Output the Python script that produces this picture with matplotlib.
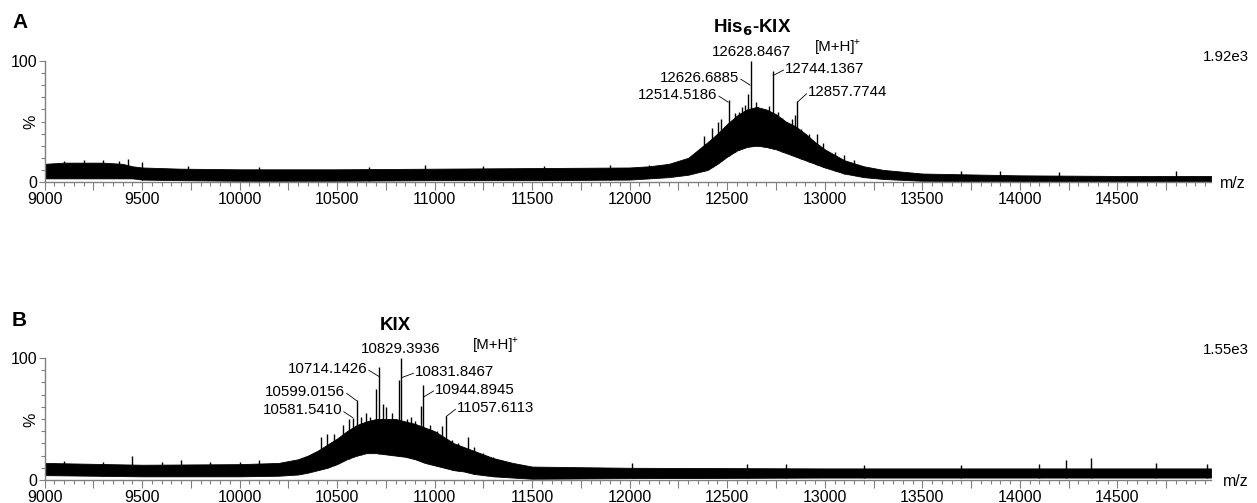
import numpy as np
import matplotlib.pyplot as plt
from matplotlib.ticker import MultipleLocator, FuncFormatter

plt.rcParams['font.family'] = ['Liberation Sans', 'DejaVu Sans']

# Панель A: огибающая шумовой полосы спектра (m/z, % нижняя и верхняя граница)
mz_a = [9000, 9100, 9200, 9300, 9400, 9450, 9500, 9700, 10000, 10500, 11000, 11500, 12000,
        12100, 12200, 12300, 12400, 12450, 12500, 12550, 12600, 12650, 12700, 12750, 12800,
        12850, 12900, 12950, 13000, 13100, 13200, 13300, 13500, 14000, 14500, 14980]
upper_a = [15, 16, 16, 16, 15, 13, 12, 11, 10.5, 10.5, 11, 11.5, 12, 13, 15, 20, 33, 40, 48,
           55, 60, 62, 60, 56, 50, 46, 40, 33, 27, 18, 13, 10, 7, 5.5, 5, 5]
lower_a = [3, 3, 3, 3, 3, 3, 2, 1.5, 1, 1, 1.5, 1.5, 2, 3, 4, 6, 10, 15, 21, 26, 29, 30, 29,
           27, 24, 21, 18, 15, 12, 7, 4, 2.5, 1, 0.5, 0.5, 0.5]

# Панель A: отдельные пики (m/z, %)
peaks_a_mz = [12623, 12606, 12733, 12508, 12859, 12590, 12560, 12700, 12962, 9428, 9500,
              12380, 12420, 12455, 12470, 12540, 12575, 12645, 12660, 12690, 12715, 12760,
              12780, 12800, 12830, 12845, 12880, 12920, 12990, 13050, 13100, 13150,
              9100, 9200, 9300, 9380, 9735, 10100, 10664, 10950, 11250, 11560, 11900,
              12100, 13700, 13900, 14200, 14800]
peaks_a_h = [100, 73, 92, 68, 67, 64, 58, 55, 40, 19, 16.5,
             38, 45, 50, 52, 57, 62, 66, 62, 58, 63, 58,
             53, 50, 52, 55, 44, 40, 32, 25, 22, 18,
             17, 18, 18, 17, 13, 12.5, 12.5, 14, 13, 13.5, 14,
             14, 9, 9.5, 8.5, 9]

# Панель B: огибающая шумовой полосы
mz_b = [9000, 9500, 10000, 10200, 10300, 10350, 10400, 10450, 10500, 10550, 10600, 10650,
        10700, 10750, 10800, 10850, 10900, 10950, 11000, 11050, 11100, 11150, 11200, 11300,
        11400, 11500, 12000, 13000, 14000, 14980]
upper_b = [14, 12.5, 13, 14, 17, 20, 24, 29, 34, 40, 45, 48, 50, 50, 50, 48, 46, 43, 40, 35,
           30, 27, 24, 18, 14, 11, 10, 9.5, 9.5, 9.5]
lower_b = [4, 3, 3, 3.5, 4.5, 6, 8, 10, 13, 17, 20, 22, 22, 21, 20, 19, 17, 14, 12, 10, 8,
           7, 5, 3, 2, 1, 1.5, 2, 2, 2]

# Панель B: отдельные пики
peaks_b_mz = [10828, 10815, 10715, 10700, 10601, 10582, 10941, 10930, 11059, 11040, 11170,
              10751, 10485, 9448, 10003, 12013, 14237, 14365, 14698, 14960,
              10420, 10450, 10530, 10560, 10620, 10650, 10670, 10735, 10780, 10860, 10880,
              10900, 10975, 11010, 11090, 11120, 11200, 11250, 11300,
              9100, 9300, 9600, 9700, 9850, 10100, 12600, 12800, 13200, 13700, 14100]
peaks_b_h = [100, 82, 93, 75, 65.6, 51, 78, 61, 52.5, 44, 35, 60, 38, 20, 15, 14, 16, 18, 14, 13,
             35, 38, 45, 50, 52, 55, 52, 62, 55, 50, 52,
             48, 45, 40, 33, 30, 27, 22, 19,
             15.5, 15, 15, 16, 15, 16, 13, 13, 12, 12, 13]

# Подписи пиков: текст, позиция текста (m/z, %), точка выноски, выравнивание
labels_a = [
    ('12628.8467', (12623, 107.5), None, 'center'),
    ('12626.6885', (12561, 86), (12618, 80), 'right'),
    ('12744.1367', (12797, 93.5), (12735, 88), 'left'),
    ('12514.5186', (12449, 72), (12505, 66), 'right'),
    ('12857.7744', (12915, 74), (12860, 66), 'left'),
]
labels_b = [
    ('10829.3936', (10828, 107.5), None, 'center'),
    ('10714.1426', (10654, 91), (10713, 85), 'right'),
    ('10599.0156', (10541, 72), (10600, 65), 'right'),
    ('10581.5410', (10526, 57), (10581, 51), 'right'),
    ('10831.8467', (10900, 88.5), (10832, 84), 'left'),
    ('10944.8945', (11003, 74), (10943, 68), 'left'),
    ('11057.6113', (11115, 59), (11059, 52), 'left'),
]

W, H = 1257, 503
fig = plt.figure(figsize=(W / 100, H / 100), dpi=100)


def px(x, y):
    return x / W, 1 - y / H


def draw_panel(rect, mz, lo, up, pk_mz, pk_h, labels):
    ax = fig.add_axes(rect)
    ax.fill_between(mz, lo, up, color='black', lw=0.6)
    # пики начинаются от нижней границы полосы
    base = np.interp(pk_mz, mz, lo)
    ax.vlines(pk_mz, base, pk_h, color='black', lw=1.0)
    for txt, xy, tip, ha in labels:
        ax.text(xy[0], xy[1], txt, ha=ha, va='center', fontsize=10.8, clip_on=False)
        if tip is not None:
            start = (xy[0] + (8 if ha == 'right' else -8), xy[1] - 1)
            ax.annotate('', xy=tip, xytext=start,
                        arrowprops=dict(arrowstyle='-', lw=0.6, color='black',
                                        shrinkA=0, shrinkB=0),
                        annotation_clip=False)
    ax.set_xlim(9000, 14980)
    ax.set_ylim(0, 100)
    for s in ['top', 'right']:
        ax.spines[s].set_visible(False)
    for s in ['left', 'bottom']:
        ax.spines[s].set_color('#808080')
        ax.spines[s].set_linewidth(1.0)
    ax.xaxis.set_major_locator(MultipleLocator(250))
    ax.xaxis.set_minor_locator(MultipleLocator(50))
    ax.xaxis.set_major_formatter(FuncFormatter(lambda v, p: f'{int(v)}' if v % 500 == 0 else ''))
    ax.set_yticks([0, 100])
    ax.yaxis.set_minor_locator(MultipleLocator(10))
    ax.tick_params(axis='x', which='major', length=6, width=0.8, color='#808080',
                   labelsize=11.5, pad=1)
    ax.tick_params(axis='x', which='minor', length=3, width=0.8, color='#808080')
    ax.tick_params(axis='y', which='major', length=4, width=0.8, color='#808080',
                   labelsize=11.5, pad=1)
    ax.tick_params(axis='y', which='minor', length=3, width=0.8, color='#808080')
    return ax


ax_a = draw_panel([44.5 / W, 1 - 182 / H, (1211 - 44.5) / W, 121 / H],
                  mz_a, lower_a, upper_a, peaks_a_mz, peaks_a_h, labels_a)
ax_b = draw_panel([44.5 / W, 1 - 480 / H, (1211 - 44.5) / W, 122 / H],
                  mz_b, lower_b, upper_b, peaks_b_mz, peaks_b_h, labels_b)

# Подписи панелей и прочий текст
fig.text(*px(12, 22), 'A', fontsize=15, fontweight='bold', va='center')
fig.text(*px(12, 320), 'B', fontsize=15, fontweight='bold', va='center')

fig.text(*px(752, 28), 'His$_\\mathbf{6}$-KIX', fontsize=13.5, fontweight='bold',
         ha='center', va='center')
fig.text(*px(395, 325), 'KIX', fontsize=13.5, fontweight='bold', ha='center', va='center')

# [M+H] с маленьким плюсом сверху
for x, y in [(815, 47), (473, 345)]:
    fig.text(*px(x, y), '[M+H]', fontsize=10.8, va='center')
    fig.text(*px(x + 39, y - 5), '+', fontsize=7, va='center')

fig.text(*px(1249, 57), '1.92e3', fontsize=10.8, ha='right', va='center')
fig.text(*px(1249, 350), '1.55e3', fontsize=10.8, ha='right', va='center')

for y in (122, 420):
    fig.text(*px(31, y), '%', fontsize=11.5, rotation=90, ha='center', va='center')
fig.text(*px(1220, 184), 'm/z', fontsize=11.5, va='center')
fig.text(*px(1223, 481), 'm/z', fontsize=11.5, va='center')

plt.savefig('out.png', dpi=100)
